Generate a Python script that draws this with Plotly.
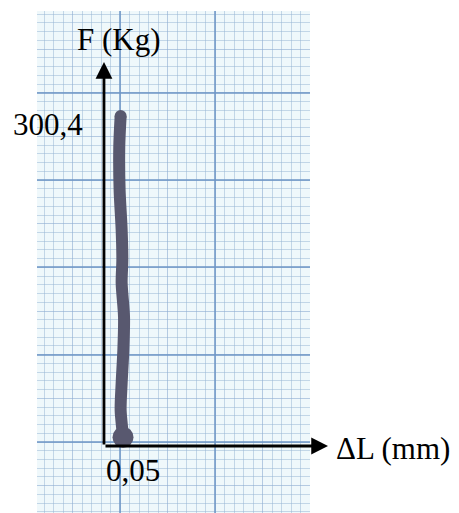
import plotly.graph_objects as go

# Hand-traced load/elongation curve: elongation ΔL (mm) vs load F (kg)
delta_l = [0.056, 0.054, 0.049, 0.052, 0.057, 0.059, 0.052, 0.054, 0.052, 0.046, 0.045, 0.049]
force = [8.0, 14.6, 32.8, 57.3, 87.4, 117.4, 148.4, 169.3, 196.6, 233.0, 272.2, 300.4]

# Rounded ends of the pen stroke: bottom blot and top tip
end_delta_l = [0.056, 0.049]
end_force = [8.0, 300.4]
end_sizes = [21, 12]

# Labels
f_max_label = "300,4"
dl_label = "0,05"
y_title = "F (Kg)"
x_title = "ΔL (mm)"

# Axis arrow ends (data units)
x_arrow_end = 0.659
y_arrow_end = 349.6

INK = "#58586f"
SERIF = "Liberation Serif"

fig = go.Figure()

# Millimetre paper: grid axes in mm
fig.add_trace(go.Scatter(x=[], y=[], xaxis="x2", yaxis="y2", showlegend=False))
fig.add_trace(go.Scatter(x=[], y=[], xaxis="x3", yaxis="y3", showlegend=False))

fig.add_trace(go.Scatter(
    x=delta_l, y=force, mode="lines",
    line=dict(color=INK, width=12, shape="spline", smoothing=0.8),
    showlegend=False, hoverinfo="skip",
))
fig.add_trace(go.Scatter(
    x=end_delta_l, y=end_force, mode="markers",
    marker=dict(size=end_sizes, color=INK, opacity=1, line=dict(width=0)),
    showlegend=False, hoverinfo="skip",
))

minor_grid = dict(dtick=1, showgrid=True, gridcolor="rgba(150,180,212,0.5)", gridwidth=1, ticks="")
fig.update_layout(
    width=459, height=513,
    margin=dict(l=37, r=149, t=11, b=0),
    paper_bgcolor="white",
    plot_bgcolor="#eff8fb",
    showlegend=False,
    xaxis=dict(range=[-0.197, 0.606], visible=False, fixedrange=True),
    yaxis=dict(range=[-61.0, 396.0], visible=False, fixedrange=True),
    xaxis2=dict(range=[1.26, 30.0], overlaying="x", dtick=5, showgrid=True,
                gridcolor="rgba(140,172,210,0.6)", gridwidth=1,
                showticklabels=False, zeroline=False, ticks="", showline=False,
                minor=minor_grid),
    yaxis2=dict(range=[1.87, 59.37], overlaying="y", dtick=5, showgrid=True,
                gridcolor="rgba(140,172,210,0.6)", gridwidth=1,
                showticklabels=False, zeroline=False, ticks="", showline=False,
                minor=minor_grid),
    xaxis3=dict(range=[1.26, 30.0], overlaying="x", dtick=10, showgrid=True,
                gridcolor="rgba(110,150,198,0.75)", gridwidth=1.5,
                showticklabels=False, zeroline=False, ticks="", showline=False),
    yaxis3=dict(range=[1.87, 59.37], overlaying="y", dtick=10, showgrid=True,
                gridcolor="rgba(110,150,198,0.75)", gridwidth=1.5,
                showticklabels=False, zeroline=False, ticks="", showline=False),
)

arrow_style = dict(text="", showarrow=True, arrowhead=2, arrowsize=1.2,
                   arrowwidth=2.8, arrowcolor="black", standoff=0, startstandoff=0,
                   xref="x", yref="y", axref="x", ayref="y")
fig.add_annotation(x=0, y=y_arrow_end, ax=0, ay=0, **arrow_style)
fig.add_annotation(x=x_arrow_end, y=0, ax=0, ay=0, **arrow_style)

label_font = dict(family=SERIF, size=31, color="black")
fig.add_annotation(text=y_title, xref="paper", yref="paper", x=(118.5 - 37) / 273,
                   y=(513 - 40) / 502, xanchor="center", yanchor="middle",
                   showarrow=False, font=label_font)
fig.add_annotation(text=f_max_label, xref="paper", yref="paper", x=(85 - 37) / 273,
                   y=(513 - 124) / 502, xanchor="right", yanchor="middle",
                   showarrow=False, font=label_font)
fig.add_annotation(text=dl_label, xref="paper", yref="paper", x=(104 - 37) / 273,
                   y=(513 - 470) / 502, xanchor="left", yanchor="middle",
                   showarrow=False, font=label_font)
fig.add_annotation(text=x_title, xref="paper", yref="paper", x=(334 - 37) / 273,
                   y=(513 - 448) / 502, xanchor="left", yanchor="middle",
                   showarrow=False, font=label_font)

fig.write_html("out.html")
